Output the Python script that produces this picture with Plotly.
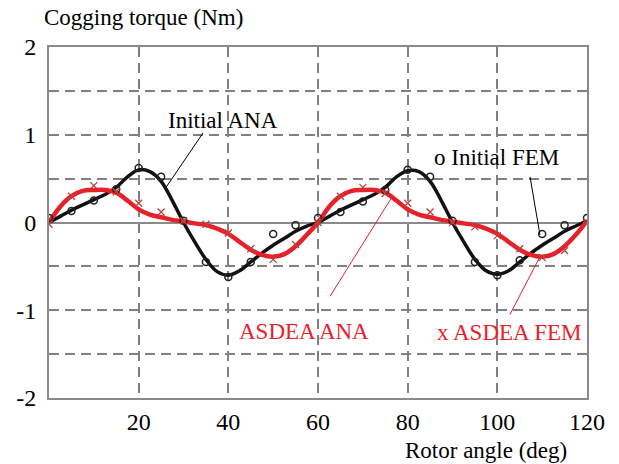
import plotly.graph_objects as go

# ---- data ----
angle_ana = [0, 2.5, 5, 7.5, 10, 12.5, 15, 17.5, 20, 22.5, 25, 27.5, 30, 32.5, 35, 37.5, 40, 42.5, 45, 47.5, 50, 52.5, 55, 57.5,
             60, 62.5, 65, 67.5, 70, 72.5, 75, 77.5, 80, 82.5, 85, 87.5, 90, 92.5, 95, 97.5, 100, 102.5, 105, 107.5, 110, 112.5, 115, 117.5, 120]
initial_ana = [0.0, 0.07, 0.14, 0.2, 0.26, 0.32, 0.4, 0.52, 0.6, 0.58, 0.47, 0.25, 0.0, -0.22, -0.42, -0.56, -0.6, -0.55, -0.45, -0.35, -0.26, -0.18, -0.1, -0.04,
               0.0, 0.07, 0.14, 0.2, 0.26, 0.32, 0.4, 0.52, 0.59, 0.58, 0.47, 0.25, 0.0, -0.22, -0.42, -0.55, -0.59, -0.55, -0.45, -0.35, -0.26, -0.18, -0.1, -0.04, 0.02]
asdea_ana = [0.0, 0.18, 0.3, 0.36, 0.37, 0.37, 0.34, 0.25, 0.15, 0.09, 0.06, 0.03, 0.01, -0.01, -0.03, -0.07, -0.13, -0.22, -0.31, -0.37, -0.39, -0.36, -0.27, -0.14,
             0.0, 0.18, 0.3, 0.36, 0.37, 0.37, 0.34, 0.25, 0.15, 0.09, 0.06, 0.03, 0.01, -0.01, -0.03, -0.07, -0.13, -0.22, -0.31, -0.37, -0.39, -0.36, -0.27, -0.14, 0.02]

angle_fem = [0, 5, 10, 15, 20, 25, 30, 35, 40, 45, 50, 55, 60, 65, 70, 75, 80, 85, 90, 95, 100, 105, 110, 115, 120]
initial_fem = [0.05, 0.13, 0.25, 0.38, 0.62, 0.52, 0.02, -0.45, -0.62, -0.45, -0.13, -0.03, 0.05,
               0.12, 0.24, 0.37, 0.6, 0.52, 0.02, -0.45, -0.6, -0.43, -0.13, -0.03, 0.05]
asdea_fem = [-0.02, 0.3, 0.42, 0.35, 0.22, 0.12, 0.02, -0.02, -0.12, -0.3, -0.42, -0.25, 0.0,
             0.3, 0.4, 0.33, 0.22, 0.12, 0.0, -0.05, -0.15, -0.3, -0.4, -0.32, 0.0]

x_ticks = [20, 40, 60, 80, 100, 120]
y_ticks = [-2, -1, 0, 1, 2]
y_tick_text = ["-2", "-1", "0", "1", "2"]

RED = "#e8202a"
FONT = "Liberation Serif"

fig = go.Figure()
fig.add_trace(go.Scatter(x=angle_ana, y=initial_ana, mode="lines", line=dict(color="#111111", width=3.5, shape="spline")))
fig.add_trace(go.Scatter(x=angle_ana, y=asdea_ana, mode="lines", line=dict(color=RED, width=4.5, shape="spline")))
fig.add_trace(go.Scatter(x=angle_fem, y=initial_fem, mode="markers",
                         marker=dict(symbol="circle-open", size=7, color="#222222", line=dict(width=1.5))))
fig.add_trace(go.Scatter(x=angle_fem, y=asdea_fem, mode="markers",
                         marker=dict(symbol="x-thin-open", size=7, color="#b8433a", line=dict(width=1.3, color="#b8433a"))))

grid = dict(gridcolor="#808080", griddash="10px,6px", gridwidth=1.5)
fig.update_xaxes(range=[0, 120], tickvals=x_ticks, showgrid=True, **grid,
                 showline=True, mirror=True, linecolor="#8a8a8a", linewidth=2,
                 ticks="outside", ticklen=1, tickcolor="white", zeroline=False,
                 tickfont=dict(family=FONT, size=24, color="black"))
fig.update_yaxes(range=[-2, 2], tickvals=y_ticks, ticktext=y_tick_text, showgrid=True, **grid,
                 minor=dict(dtick=0.5, showgrid=True, gridcolor="#808080", griddash="10px,6px", gridwidth=1.5),
                 showline=True, mirror=True, linecolor="#8a8a8a", linewidth=2,
                 zeroline=True, zerolinecolor="#8a8a8a", zerolinewidth=2,
                 ticks="outside", ticklen=6, tickcolor="white",
                 tickfont=dict(family=FONT, size=24, color="black"))

annotations = [
    dict(text="Initial ANA", x=38.7, y=1.16, color="black"),
    dict(text="o Initial FEM", x=99.9, y=0.74, color="black"),
    dict(text="ASDEA ANA", x=56.8, y=-1.24, color=RED),
    dict(text="x ASDEA FEM", x=102.6, y=-1.25, color=RED),
]
for a in annotations:
    fig.add_annotation(text=a["text"], x=a["x"], y=a["y"], xref="x", yref="y", showarrow=False,
                       font=dict(family=FONT, size=23, color=a["color"]))

leader_lines = [
    (34.35, 1.02, 26.1, 0.40, "black"),
    (107.3, 0.52, 109.5, -0.14, "black"),
    (62.7, -0.84, 76.5, 0.29, RED),
    (102.8, -1.05, 109.5, -0.39, RED),
]
for x0, y0, x1, y1, c in leader_lines:
    fig.add_shape(type="line", x0=x0, y0=y0, x1=x1, y1=y1, xref="x", yref="y", line=dict(color=c, width=1))

W, H = 619, 464
L, R, T, B = 49, 32, 47, 66
pw, ph = W - L - R, H - T - B
fig.add_annotation(text="Cogging torque (Nm)", xref="paper", yref="paper", x=(42 - L) / pw, y=(H - 18 - B) / ph,
                   xanchor="left", yanchor="middle", showarrow=False,
                   font=dict(family=FONT, size=23, color="black"))
fig.add_annotation(text="Rotor angle (deg)", xref="paper", yref="paper", x=(486 - L) / pw, y=(H - 450 - B) / ph,
                   xanchor="center", yanchor="middle", showarrow=False,
                   font=dict(family=FONT, size=23, color="black"))

fig.update_layout(width=W, height=H, margin=dict(l=L, r=R, t=T, b=B),
                  showlegend=False, plot_bgcolor="white", paper_bgcolor="white")

fig.write_html("out.html")
